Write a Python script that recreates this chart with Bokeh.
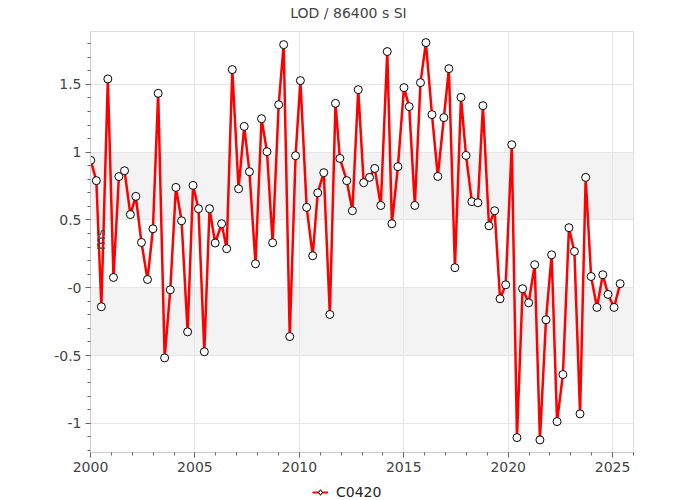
import math
from bokeh.plotting import figure
from bokeh.layouts import column
from bokeh.models import (Range1d, SingleIntervalTicker, CustomJSTickFormatter,
                          BoxAnnotation, Label, Legend, LegendItem)
from bokeh.embed import file_html
from bokeh.resources import INLINE

title_text = "LOD / 86400 s SI"
y_label = "ms"
series_name = "C0420"

years = [
    2000.01, 2000.28, 2000.52, 2000.83, 2001.10, 2001.36, 2001.63, 2001.91, 2002.17, 2002.44,
    2002.73, 2002.99, 2003.24, 2003.55, 2003.82, 2004.09, 2004.36, 2004.65, 2004.91, 2005.17,
    2005.45, 2005.70, 2005.97, 2006.28, 2006.52, 2006.79, 2007.09, 2007.36, 2007.61, 2007.90,
    2008.19, 2008.45, 2008.72, 2009.01, 2009.25, 2009.54, 2009.82, 2010.05, 2010.35, 2010.64,
    2010.88, 2011.17, 2011.46, 2011.73, 2011.94, 2012.27, 2012.54, 2012.82, 2013.08, 2013.36,
    2013.61, 2013.90, 2014.21, 2014.43, 2014.72, 2015.01, 2015.26, 2015.53, 2015.80, 2016.06,
    2016.35, 2016.63, 2016.92, 2017.16, 2017.45, 2017.74, 2017.98, 2018.26, 2018.55, 2018.79,
    2019.08, 2019.35, 2019.61, 2019.88, 2020.17, 2020.42, 2020.69, 2020.98, 2021.27, 2021.52,
    2021.81, 2022.08, 2022.34, 2022.62, 2022.91, 2023.17, 2023.44, 2023.71, 2023.97, 2024.25,
    2024.53, 2024.78, 2025.07, 2025.36,
]
lod_ms = [
    0.94, 0.79, -0.14, 1.54, 0.076, 0.82, 0.863, 0.54, 0.674, 0.334,
    0.061, 0.435, 1.434, -0.517, -0.015, 0.74, 0.494, -0.325, 0.755, 0.583,
    -0.472, 0.583, 0.33, 0.472, 0.288, 1.609, 0.73, 1.19, 0.856, 0.177,
    1.247, 1.004, 0.332, 1.35, 1.793, -0.36, 0.974, 1.528, 0.593, 0.236,
    0.70, 0.849, -0.197, 1.36, 0.954, 0.79, 0.568, 1.461, 0.775, 0.814,
    0.88, 0.607, 1.742, 0.472, 0.893, 1.476, 1.336, 0.607, 1.513, 1.808,
    1.277, 0.821, 1.255, 1.616, 0.148, 1.404, 0.976, 0.635, 0.627, 1.343,
    0.457, 0.568, -0.081, 0.022, 1.055, -1.105, -0.007, -0.111, 0.17, -1.122,
    -0.236, 0.243, -0.987, -0.64, 0.443, 0.268, -0.93, 0.814, 0.083, -0.145,
    0.096, -0.049, -0.145, 0.03,
]

# shaded bands (value ranges)
bands = [(0.5, 1.0), (-0.5, 0.0)]

x_start, x_end = 2000, 2026
y_start, y_end = -1.215, 1.89


def strip(height):
    f = figure(width=700, height=height, output_backend="svg", toolbar_location=None,
               x_range=Range1d(0, 1), y_range=Range1d(0, 1), min_border=0)
    f.axis.visible = False
    f.grid.visible = False
    f.outline_line_color = None
    f.background_fill_color = "white"
    f.border_fill_color = "white"
    return f


# title strip
tf = strip(24)
tf.add_layout(Label(x=258, y=12, x_units="screen", y_units="screen", text=title_text,
                    text_align="center", text_baseline="middle",
                    text_font="DejaVu Sans", text_font_size="14px", text_color="#444444"))

# main chart
p = figure(width=700, height=456, output_backend="svg", toolbar_location=None,
           x_range=Range1d(x_start, x_end), y_range=Range1d(y_start, y_end),
           min_border_left=90, min_border_right=67, min_border_top=7, min_border_bottom=28)

p.background_fill_color = "white"
p.border_fill_color = "white"
p.outline_line_color = "#dddddd"
p.outline_line_width = 1

for lo, hi in bands:
    p.add_layout(BoxAnnotation(bottom=lo, top=hi, fill_color="#f3f3f3", fill_alpha=1.0,
                               line_alpha=0, level="image"))

p.xaxis.ticker = SingleIntervalTicker(interval=5, num_minor_ticks=5)
p.yaxis.ticker = SingleIntervalTicker(interval=0.5, num_minor_ticks=5)
p.yaxis.formatter = CustomJSTickFormatter(code="""
    if (Math.abs(tick) < 1e-9) { return "-0"; }
    return String(Math.round(tick * 10) / 10);
""")

for ax in (p.xaxis, p.yaxis):
    ax.axis_line_color = "#cccccc"
    ax.major_tick_line_color = "#666666"
    ax.minor_tick_line_color = "#666666"
    ax.major_tick_out = 5
    ax.major_tick_in = 0
    ax.minor_tick_out = 3
    ax.minor_tick_in = 0
    ax.major_label_text_font = "DejaVu Sans"
    ax.major_label_text_font_size = "14px"
    ax.major_label_text_color = "#444444"
    ax.major_label_standoff = 4

p.xgrid.grid_line_color = "#e6e6e6"
p.ygrid.grid_line_color = "#e6e6e6"

p.line(years, lod_ms, line_color="#ff0000", line_width=2.5)
p.scatter(years, lod_ms, size=8, fill_color="white", line_color="black", line_width=1)

p.add_layout(Label(x=9.6, y=213, x_units="screen", y_units="screen", text=y_label,
                   angle=math.pi / 2, text_align="center", text_baseline="middle",
                   text_font="DejaVu Sans", text_font_size="14px", text_color="#444444"))

# legend strip below the chart (its renderers' data lie outside the strip's ranges)
lf = strip(20)
lr = lf.line(years, lod_ms, line_color="#ff0000", line_width=2)
sr = lf.scatter(years, lod_ms, marker="diamond", size=8, fill_color="white",
                line_color="black", line_width=1)
legend = Legend(items=[LegendItem(label=series_name, renderers=[lr, sr])],
                location=(222, 0), orientation="horizontal",
                padding=0, margin=0, spacing=0, glyph_width=16, glyph_height=14,
                label_height=14, label_standoff=8,
                label_text_font="DejaVu Sans", label_text_font_size="14px",
                label_text_color="#222222", background_fill_alpha=0, border_line_alpha=0)
lf.add_layout(legend)

open("out.html", "w").write(file_html(column(tf, p, lf, spacing=0), INLINE))
